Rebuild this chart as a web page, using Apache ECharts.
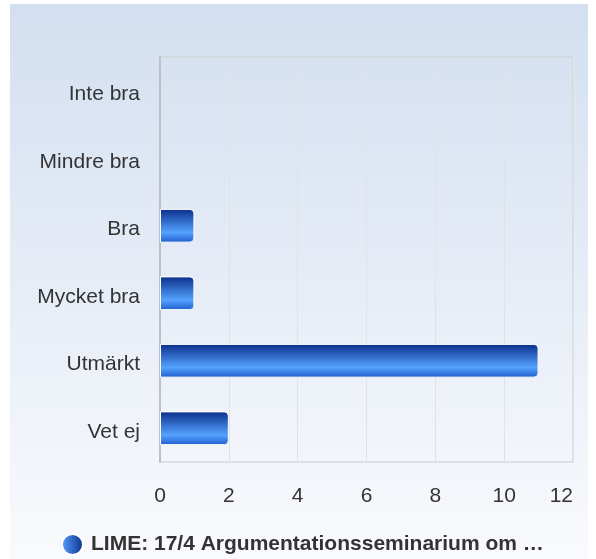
<!DOCTYPE html>
<html>
<head>
<meta charset="utf-8">
<style>
  html, body { margin: 0; padding: 0; background: #fff; }
  #chart { width: 596px; height: 559px; }
</style>
<script src="https://cdn.jsdelivr.net/npm/echarts@6/dist/echarts.min.js"></script>
</head>
<body>
<div id="chart"></div>
<script>
// data
const categories = ["Inte bra", "Mindre bra", "Bra", "Mycket bra", "Utmärkt", "Vet ej"];
const answers = [0, 0, 1, 1, 11, 2];
const seriesName = "LIME: 17/4 Argumentationsseminarium om …";
const xTicks = { min: 0, max: 12, interval: 2 };

const font = "Liberation Sans, Arial, sans-serif";

const barFill = new echarts.graphic.LinearGradient(0, 0, 0, 1, [
  { offset: 0, color: "#0a2d8a" },
  { offset: 0.7, color: "#55a2ff" },
  { offset: 1, color: "#1f5ccc" }
]);

// zero bars get no outline so they don't cut the axis line
const barData = answers.map(v => ({
  value: v,
  itemStyle: { borderWidth: v === 0 ? 0 : 1 }
}));

const chart = echarts.init(document.getElementById("chart"));
chart.setOption({
  animation: false,
  backgroundColor: "#ffffff",
  graphic: [{
    type: "rect",
    z: -10,
    left: 10, top: 4,
    shape: { width: 578, height: 555 },
    style: {
      fill: new echarts.graphic.LinearGradient(0, 0, 0, 1, [
        { offset: 0, color: "#d3dff0" },
        { offset: 1, color: "#f9fafd" }
      ])
    }
  }],
  grid: { left: 160, right: 23, top: 57, bottom: 97, show: true, borderColor: "#cccccc", borderWidth: 1 },
  legend: {
    top: 528,
    left: 56,
    itemWidth: 21, itemHeight: 21,
    icon: "circle",
    textStyle: { fontFamily: font, fontSize: 21, fontWeight: "bold", color: "#333", padding: [0, 0, 0, 3] },
    data: [{
      name: seriesName,
      itemStyle: {
        color: new echarts.graphic.LinearGradient(0, 0, 1, 0, [
          { offset: 0, color: "#5aa0ff" },
          { offset: 1, color: "#0a2d8a" }
        ])
      }
    }]
  },
  xAxis: {
    type: "value",
    min: xTicks.min, max: xTicks.max, interval: xTicks.interval,
    axisLine: { show: false },
    axisTick: { show: false },
    splitLine: { lineStyle: { color: "#e2e2e2", width: 1 } },
    axisLabel: { fontFamily: font, fontSize: 21, color: "#333", margin: 24, alignMaxLabel: "right" }
  },
  yAxis: {
    type: "category",
    inverse: true,
    data: categories,
    axisLine: { show: true, lineStyle: { color: "#c0c0c0", width: 2 } },
    axisTick: { show: false },
    axisLabel: {
      margin: 20,
      formatter: v => "{c|" + v + "}",
      rich: { c: { fontFamily: font, fontSize: 21, color: "#333", padding: [7, 0, 0, 0] } }
    }
  },
  series: [{
    name: seriesName,
    type: "bar",
    data: barData,
    barWidth: "50%",
    itemStyle: {
      color: barFill,
      borderColor: "#ffffff",
      borderWidth: 1,
      borderRadius: [0, 4, 4, 0]
    }
  }]
});
</script>
</body>
</html>
